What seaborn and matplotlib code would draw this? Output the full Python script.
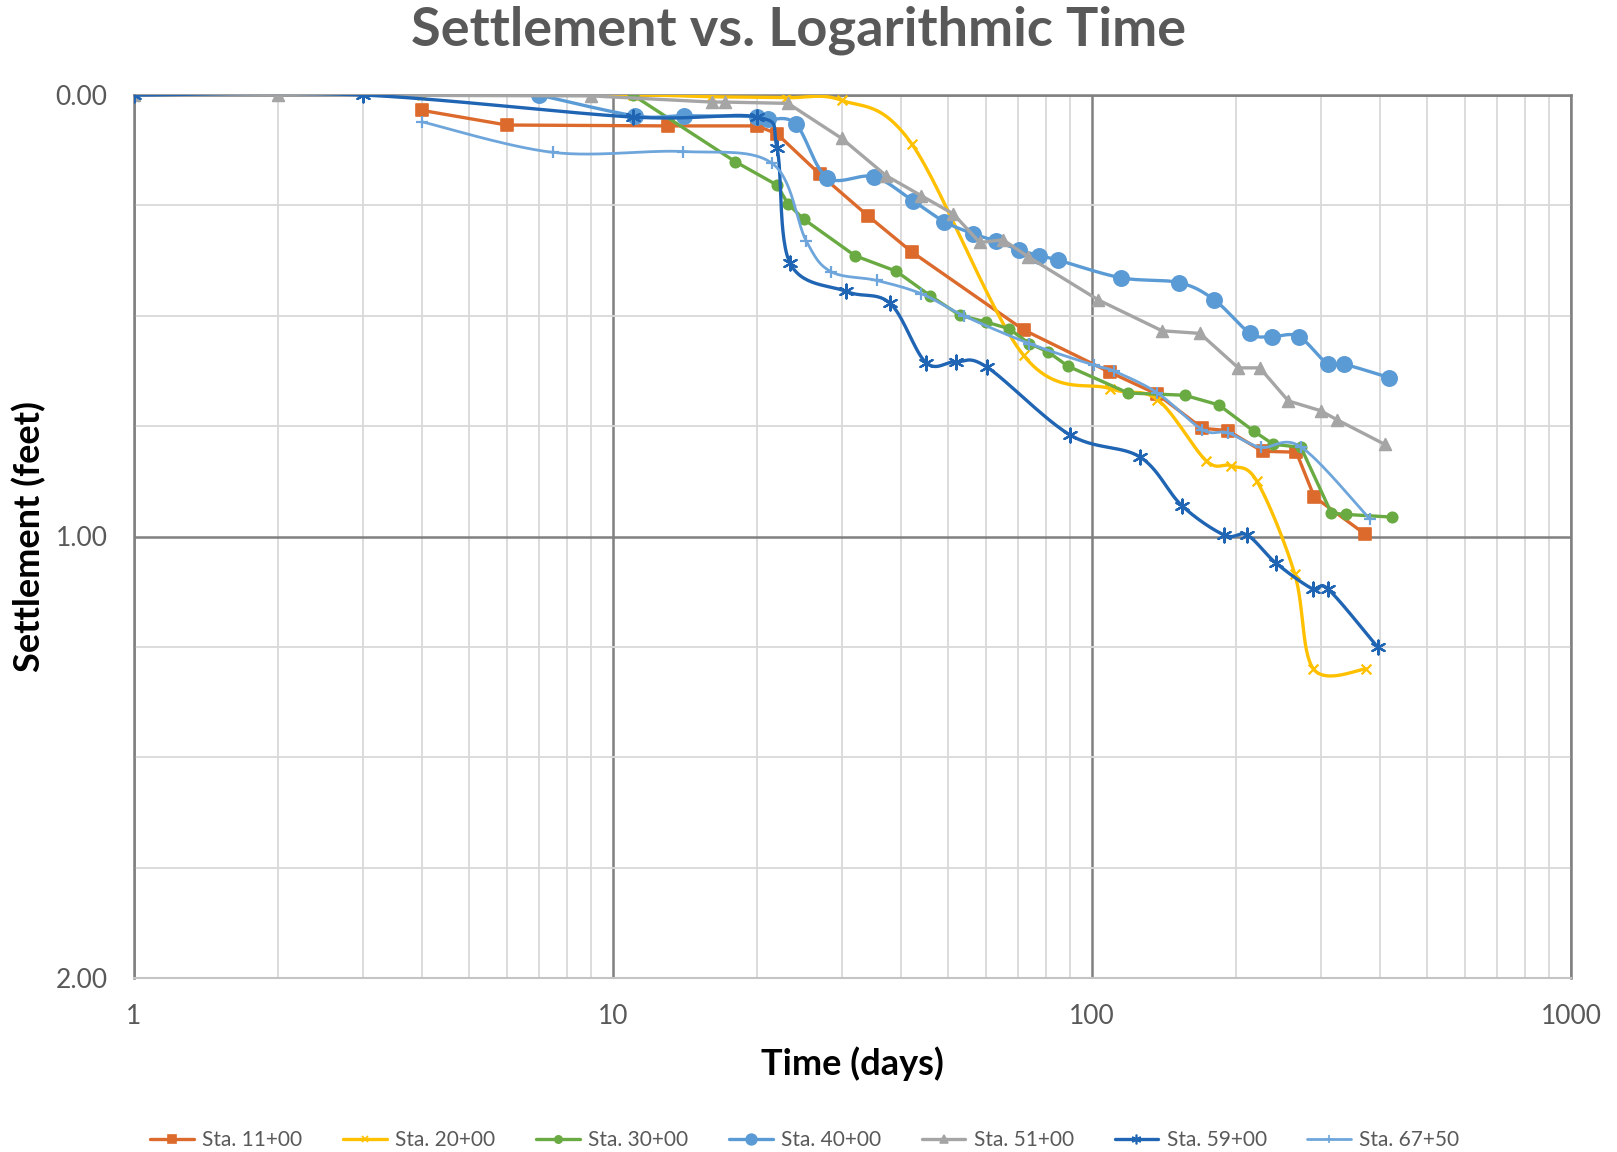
import numpy as np
import pandas as pd
import matplotlib
matplotlib.use("Agg")
import matplotlib.pyplot as plt
from matplotlib.lines import Line2D
from matplotlib.ticker import FixedLocator, NullFormatter
import seaborn as sns

# ---------------------------------------------------------------- data
# Settlement readings (feet) against elapsed time (days) for each station
sta_11_days = [4, 6, 13, 20, 22, 27, 34, 42, 72, 109, 137, 170, 192, 227, 267, 291, 372]
sta_11_feet = [0.035, 0.068, 0.070, 0.070, 0.088, 0.179, 0.273, 0.355, 0.532, 0.628,
               0.678, 0.755, 0.760, 0.807, 0.809, 0.910, 0.995]

sta_20_days = [4, 11, 16, 23, 30, 42, 72, 109, 137, 173, 195, 221, 265, 290, 374]
sta_20_feet = [0.0, 0.0, 0.004, 0.006, 0.012, 0.11, 0.59, 0.665, 0.69, 0.828, 0.840,
               0.875, 1.085, 1.300, 1.300]

sta_30_days = [11, 18, 22, 23.2, 25, 32, 39, 46, 53, 60, 67, 74, 81, 89, 119, 156, 184,
               218, 239, 273, 316, 339, 422]
sta_30_feet = [0.0, 0.151, 0.204, 0.247, 0.281, 0.364, 0.399, 0.455, 0.499, 0.514, 0.529,
               0.563, 0.582, 0.614, 0.675, 0.680, 0.702, 0.762, 0.791, 0.798, 0.947,
               0.950, 0.956]

sta_40_days = [7, 11.1, 14.1, 20, 21.1, 24.1, 28, 35, 42.2, 49.2, 56.4, 63.1, 70.5, 77.6,
               85, 115, 152, 180, 214, 237.5, 270, 311, 336, 417]
sta_40_feet = [0.0, 0.047, 0.047, 0.049, 0.055, 0.066, 0.187, 0.185, 0.239, 0.287, 0.314,
               0.331, 0.351, 0.364, 0.374, 0.414, 0.425, 0.464, 0.540, 0.547, 0.547,
               0.610, 0.610, 0.640]

sta_51_days = [1, 2, 9, 16.1, 17.1, 23.2, 30, 37.2, 44, 51.3, 58.3, 65.2, 73.5, 103, 140,
               168, 202, 224, 257, 300, 324, 408]
sta_51_feet = [0.0, 0.0, 0.002, 0.016, 0.016, 0.019, 0.098, 0.183, 0.228, 0.269, 0.334,
               0.328, 0.366, 0.464, 0.534, 0.540, 0.618, 0.618, 0.693, 0.715, 0.735, 0.791]

sta_59_days = [1, 3, 11, 20, 22, 23.4, 30.7, 37.9, 45, 52, 60.3, 90, 126, 154, 189, 211,
               242, 289, 311, 395]
sta_59_feet = [0.0, 0.0, 0.05, 0.05, 0.12, 0.38, 0.445, 0.472, 0.606, 0.604, 0.616, 0.770,
               0.82, 0.93, 0.997, 0.997, 1.06, 1.119, 1.119, 1.251]

sta_67_days = [4, 7.5, 14, 21.5, 25.3, 28.5, 35.5, 44, 54, 74, 101, 111, 137, 170, 192,
               225, 273, 380]
sta_67_feet = [0.061, 0.13, 0.128, 0.155, 0.33, 0.40, 0.42, 0.45, 0.50, 0.563, 0.612,
               0.625, 0.675, 0.758, 0.765, 0.798, 0.797, 0.96]

station_names = ["Sta. 11+00", "Sta. 20+00", "Sta. 30+00", "Sta. 40+00",
                 "Sta. 51+00", "Sta. 59+00", "Sta. 67+50"]

x_tick_values = [1, 10, 100, 1000]
x_tick_labels = ["1", "10", "100", "1000"]
y_tick_values = [0, 1, 2]
y_tick_labels = ["0.00", "1.00", "2.00"]

# ---------------------------------------------------------------- styling
sns.set_theme(style="white")
plt.rcParams["font.family"] = ["Lato", "DejaVu Sans"]

GRID_DARK = "#808080"
GRID_LIGHT = "#D9D9D9"
TEXT_GRAY = "#595959"

series = [
    # days, feet, colour, marker, marker size, smoothed, line width
    (sta_11_days, sta_11_feet, "#DC6A2C", "s", 8, False, 2.4),
    (sta_20_days, sta_20_feet, "#FFC000", "x", 7, True, 2.4),
    (sta_30_days, sta_30_feet, "#6AAA42", "o", 7.5, False, 2.4),
    (sta_40_days, sta_40_feet, "#5B9BD5", "o", 11, True, 2.4),
    (sta_51_days, sta_51_feet, "#A5A5A5", "^", 8.5, False, 2.4),
    (sta_59_days, sta_59_feet, "#1F65B3", (6, 2, 0), 10, True, 2.4),
    (sta_67_days, sta_67_feet, "#6EA6DC", "+", 8, True, 2.0),
]


def smooth_curve(days, feet, n=30):
    """Bezier smoothing through every reading, done in plotted (log-x) space."""
    u = np.log10(np.asarray(days, float)) * 479.0
    v = np.asarray(feet, float) * 441.0
    pts = np.column_stack([u, v])
    ext = np.vstack([pts[0], pts, pts[-1]])
    out = []
    for i in range(len(pts) - 1):
        p0, p1, p2, p3 = ext[i], ext[i + 1], ext[i + 2], ext[i + 3]
        b1 = p1 + (p2 - p0) / 6.0
        b2 = p2 - (p3 - p1) / 6.0
        t = np.linspace(0, 1, n, endpoint=(i == len(pts) - 2))[:, None]
        seg = ((1 - t) ** 3) * p1 + 3 * ((1 - t) ** 2) * t * b1 \
            + 3 * (1 - t) * t ** 2 * b2 + t ** 3 * p2
        out.append(seg)
    curve = np.vstack(out)
    return 10 ** (curve[:, 0] / 479.0), curve[:, 1] / 441.0


fig = plt.figure(figsize=(16.17, 11.52), dpi=100)
ax = fig.add_axes([134 / 1617, 1 - 978 / 1152, 1437 / 1617, 883 / 1152])
ax.set_facecolor("white")

ax.set_xscale("log")
ax.set_xlim(1, 1000)
ax.set_ylim(2, 0)

# grid: light minor lines, darker decade / whole-foot lines
ax.xaxis.set_major_locator(FixedLocator(x_tick_values))
ax.xaxis.set_minor_locator(FixedLocator(
    [m * d for d in (1, 10, 100) for m in range(2, 10)]))
ax.yaxis.set_major_locator(FixedLocator(y_tick_values))
ax.yaxis.set_minor_locator(FixedLocator([0.25, 0.5, 0.75, 1.25, 1.5, 1.75]))
ax.xaxis.set_minor_formatter(NullFormatter())
ax.grid(which="minor", color=GRID_LIGHT, lw=1.3, zorder=0)
ax.grid(which="major", color=GRID_DARK, lw=1.8, zorder=0.5)
ax.set_axisbelow(True)

ax.set_xticks(x_tick_values)
ax.set_xticklabels(x_tick_labels)
ax.set_yticks(y_tick_values)
ax.set_yticklabels(y_tick_labels)
ax.tick_params(axis="both", which="both", length=0, labelsize=19,
               labelcolor=TEXT_GRAY)
ax.tick_params(axis="x", pad=19)
ax.tick_params(axis="y", pad=19)

for side in ("left", "top", "right"):
    ax.spines[side].set_color(GRID_DARK)
    ax.spines[side].set_linewidth(1.8)
ax.spines["bottom"].set_color("#C4C4C4")
ax.spines["bottom"].set_linewidth(1.5)

handles = []
for k, (days, feet, color, marker, ms, smoothed, lw) in enumerate(series):
    z = 3 + k
    if smoothed:
        cx, cy = smooth_curve(days, feet)
        line_df = pd.DataFrame({"days": cx, "feet": cy})
    else:
        line_df = pd.DataFrame({"days": days, "feet": feet})
    sns.lineplot(data=line_df, x="days", y="feet", sort=False, estimator=None,
                 color=color, lw=lw, ax=ax, zorder=z)
    pts_df = pd.DataFrame({"days": days, "feet": feet})
    filled = marker in ("s", "o", "^")
    sns.scatterplot(data=pts_df, x="days", y="feet", marker=marker, s=ms ** 2,
                    color=color, edgecolor=color if filled else None,
                    linewidth=1.2 if filled else 1.6, ax=ax, zorder=z + 0.5,
                    legend=False)
    handles.append(Line2D([0], [0], color=color, lw=lw, marker=marker,
                          markersize=ms * 0.7, markeredgecolor=color,
                          markerfacecolor=color, markeredgewidth=1.2))

ax.set_xlabel("Time (days)", fontsize=26, fontweight="bold", color="black",
              va="center")
ax.xaxis.set_label_coords(0.5, (978 - 1064) / 883)
ax.set_ylabel("Settlement (feet)", fontsize=26, fontweight="bold", color="black",
              va="center")
ax.yaxis.set_label_coords((29 - 134) / 1437, 0.5)

fig.text(799 / 1617, 1 - 30 / 1152, "Settlement vs. Logarithmic Time",
         ha="center", va="center", fontsize=39, fontweight="bold", color=TEXT_GRAY)

leg = fig.legend(handles, station_names, loc="center",
                 bbox_to_anchor=(805 / 1617, 1 - 1140 / 1152), ncol=7,
                 frameon=False, fontsize=15, handlelength=2.1,
                 handletextpad=0.4, columnspacing=1.95)
for txt in leg.get_texts():
    txt.set_color(TEXT_GRAY)

fig.savefig("out.png", dpi=100, facecolor="white")
